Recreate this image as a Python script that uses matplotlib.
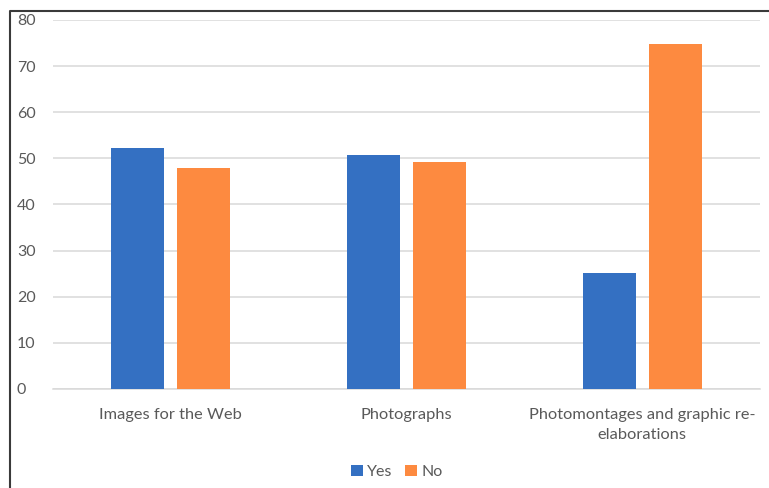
import numpy as np
import matplotlib.pyplot as plt
from matplotlib.lines import Line2D

# data
categories = ["Images for the Web", "Photographs", "Photomontages and graphic re-\nelaborations"]
yes_vals = [52.2, 50.7, 25.1]
no_vals = [47.9, 49.3, 74.9]
yticks = [0, 10, 20, 30, 40, 50, 60, 70, 80]

blue = "#3470C2"
orange = "#FD8A40"
text_col = "#595959"

plt.rcParams["font.family"] = ["Lato", "DejaVu Sans"]

fig = plt.figure(figsize=(7.69, 4.88), dpi=100)
ax = fig.add_axes([53 / 769, 1 - 389 / 488, 707 / 769, 369 / 488])

x = np.arange(len(categories))
w = 0.225
off = 0.14
ax.bar(x - off, yes_vals, w, color=blue, label="Yes", zorder=3)
ax.bar(x + off, no_vals, w, color=orange, label="No", zorder=3)

ax.set_xlim(-0.5, len(categories) - 0.5)
ax.set_ylim(0, 80)
ax.set_yticks(yticks)
ax.yaxis.grid(True, color="#D9D9D9", linewidth=1.1, zorder=0)
ax.set_axisbelow(True)
for s in ["top", "right", "left"]:
    ax.spines[s].set_visible(False)
ax.spines["bottom"].set_color("#D9D9D9")
ax.spines["bottom"].set_linewidth(1.1)

ax.set_xticks(x)
ax.set_xticklabels(categories, fontsize=11.8, color=text_col, linespacing=1.5)
ax.tick_params(axis="x", length=0, pad=14)
ax.tick_params(axis="y", length=0, pad=26, labelsize=11.5, labelcolor=text_col)
for lab in ax.get_yticklabels():
    lab.set_horizontalalignment("left")

leg = fig.legend(loc="center", bbox_to_anchor=(397 / 769, 1 - 472 / 488), ncol=2,
                 frameon=False, fontsize=11.5, handlelength=0.7, handleheight=0.7,
                 handletextpad=0.3, columnspacing=0.8)
for t in leg.get_texts():
    t.set_color(text_col)

# outer frame lines (left and top only)
fig.add_artist(Line2D([10 / 769, 10 / 769, 1], [0, 1 - 11 / 488, 1 - 11 / 488],
                      transform=fig.transFigure, color="#3a3a3a", linewidth=1.5))

fig.savefig("out.png", dpi=100)
